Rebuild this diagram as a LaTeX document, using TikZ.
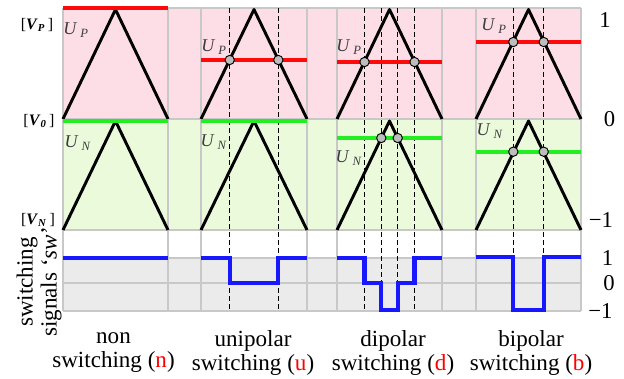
\documentclass[tikz,border=0pt]{standalone}
\usepackage{fontspec}
\setmainfont{Liberation Serif}
\definecolor{pinkbg}{HTML}{FDDEE7}
\definecolor{greenbg}{HTML}{EAFADB}
\definecolor{greyband}{HTML}{EBEBEB}
\definecolor{gridc}{HTML}{C8C8C8}
\definecolor{lvlred}{HTML}{FF0A0A}
\definecolor{lvlgreen}{HTML}{22EE22}
\definecolor{swblue}{HTML}{1818FF}
\definecolor{labc}{HTML}{3C3C3C}
\definecolor{dotc}{HTML}{BDBDBD}
\usepackage{tikz}

\begin{document}
\begin{tikzpicture}[x=0.75pt, y=-0.75pt,
  grid/.style={draw=gridc, line width=0.9pt},
  carrier/.style={draw=black, line width=2.2pt, line join=round},
  level/.style={line width=3pt},
  swsig/.style={draw=swblue, line width=3.2pt, line join=miter},
  guide/.style={draw=black, line width=0.9pt, dash pattern=on 3.6pt off 2.4pt},
  dot/.style={circle, draw=black, fill=dotc, line width=0.7pt, minimum size=7pt, inner sep=0pt},
  ulab/.style={font=\fontsize{13.5}{15}\selectfont, text=labc},
  vlab/.style={font=\fontsize{12}{14}\selectfont},
  axlab/.style={font=\fontsize{17}{20}\selectfont},
  caption/.style={font=\fontsize{17.3}{18}\selectfont, align=center},
]
\useasboundingbox (0,0) rectangle (624,378);
\fill[pinkbg] (63,8) rectangle (581,119);
\fill[greenbg] (63,119) rectangle (581,230);
\fill[greyband] (63,258) rectangle (581,311);
\draw[grid] (63,8) -- (581,8);
\draw[grid] (63,119) -- (581,119);
\draw[grid] (63,230) -- (581,230);
\draw[grid] (63,258) -- (581,258);
\draw[grid] (63,283) -- (581,283);
\draw[grid] (63,311) -- (581,311);
\draw[grid] (63,8) -- (63,311);
\draw[grid] (168,8) -- (168,311);
\draw[grid] (201,8) -- (201,311);
\draw[grid] (307,8) -- (307,311);
\draw[grid] (337,8) -- (337,311);
\draw[grid] (442,8) -- (442,311);
\draw[grid] (476,8) -- (476,311);
\draw[grid] (581,8) -- (581,311);
\draw[guide] (229.7,8) -- (229.7,311);
\draw[guide] (278.3,8) -- (278.3,311);
\draw[guide] (364.5,8) -- (364.5,311);
\draw[guide] (381.3,8) -- (381.3,311);
\draw[guide] (397.7,8) -- (397.7,311);
\draw[guide] (414.5,8) -- (414.5,311);
\draw[guide] (513.3,8) -- (513.3,257);
\draw[guide] (543.7,8) -- (543.7,257);
\draw[carrier] (63,119) -- (115.5,9.5) -- (168,119);
\draw[carrier] (63,230) -- (115.5,121) -- (168,230);
\draw[carrier] (201,119) -- (254,9.5) -- (307,119);
\draw[carrier] (201,230) -- (254,121) -- (307,230);
\draw[carrier] (337,119) -- (389.5,9.5) -- (442,119);
\draw[carrier] (337,230) -- (389.5,121) -- (442,230);
\draw[carrier] (476,119) -- (528.5,9.5) -- (581,119);
\draw[carrier] (476,230) -- (528.5,121) -- (581,230);
\draw[level, lvlred] (63,8) -- (168,8);
\draw[level, lvlgreen] (63,120.5) -- (168,120.5);
\draw[level, lvlred] (201,60) -- (307,60);
\draw[level, lvlgreen] (201,121) -- (307,121);
\draw[level, lvlred] (337,62) -- (442,62);
\draw[level, lvlgreen] (337,138) -- (442,138);
\draw[level, lvlred] (476,42) -- (581,42);
\draw[level, lvlgreen] (476,151.7) -- (581,151.7);
\draw[swsig] (63,258) -- (168,258);
\draw[swsig] (201,258) -- (229.7,258) -- (229.7,283) -- (278.3,283) -- (278.3,258) -- (307,258);
\draw[swsig] (337,258) -- (364.5,258) -- (364.5,283) -- (381.3,283) -- (381.3,310) -- (397.7,310) -- (397.7,283) -- (414.5,283) -- (414.5,258) -- (442,258);
\draw[swsig] (476,257) -- (513.3,257) -- (513.3,310) -- (543.7,310) -- (543.7,257) -- (581,257);
\node[dot] (pu1) at (229.7,60) {};
\node[dot] (pu2) at (278.3,60) {};
\node[dot] (pd1) at (364.5,62) {};
\node[dot] (pd4) at (414.5,62) {};
\node[dot] (nd2) at (381.3,138) {};
\node[dot] (nd3) at (397.7,138) {};
\node[dot] (pb1) at (513.3,42) {};
\node[dot] (pb2) at (543.7,42) {};
\node[dot] (nb1) at (513.3,151.7) {};
\node[dot] (nb2) at (543.7,151.7) {};
\node[vlab] (vp) at (37,25) {[\textbf{\textit{V}}\textsubscript{\textbf{\textit{P}}}\,]};
\node[vlab] (v0) at (39,121) {[\textbf{\textit{V}}\textsubscript{\textbf{\textit{0}}}\,]};
\node[vlab] (vn) at (38,220) {[\textbf{\textit{V}}\textsubscript{\textbf{\textit{N}}}\,]};
\node[ulab] (up-n) at (76,30) {\textit{U}\,\textsubscript{\textit{P}}};
\node[ulab] (un-n) at (78,143) {\textit{U}\,\textsubscript{\textit{N}}};
\node[ulab] (up-u) at (214,47) {\textit{U}\,\textsubscript{\textit{P}}};
\node[ulab] (un-u) at (214,142) {\textit{U}\,\textsubscript{\textit{N}}};
\node[ulab] (up-d) at (349,47) {\textit{U}\,\textsubscript{\textit{P}}};
\node[ulab] (un-d) at (349,158) {\textit{U}\,\textsubscript{\textit{N}}};
\node[ulab] (up-b) at (494,26) {\textit{U}\,\textsubscript{\textit{P}}};
\node[ulab] (un-b) at (490,131) {\textit{U}\,\textsubscript{\textit{N}}};
\node[axlab] (top1) at (605,20) {1};
\node[axlab] (top0) at (609.5,119) {0};
\node[axlab] (topm1) at (601,220) {−1};
\node[axlab] (sw1) at (607.5,258.5) {1};
\node[axlab] (sw0) at (609,283) {0};
\node[axlab] (swm1) at (600.5,311) {−1};
\node[caption, rotate=90] (swlab) at (39,282) {switching\\signals ‘\textit{sw}’};
\node[caption] (cap-n) at (113.5,353) {non\\switching (\textcolor{red}{n})};
\node[caption] (cap-u) at (253,353) {unipolar\\switching (\textcolor{red}{u})};
\node[caption] (cap-d) at (393,353) {dipolar\\switching (\textcolor{red}{d})};
\node[caption] (cap-b) at (531,353) {bipolar\\switching (\textcolor{red}{b})};
\end{tikzpicture}
\end{document}
